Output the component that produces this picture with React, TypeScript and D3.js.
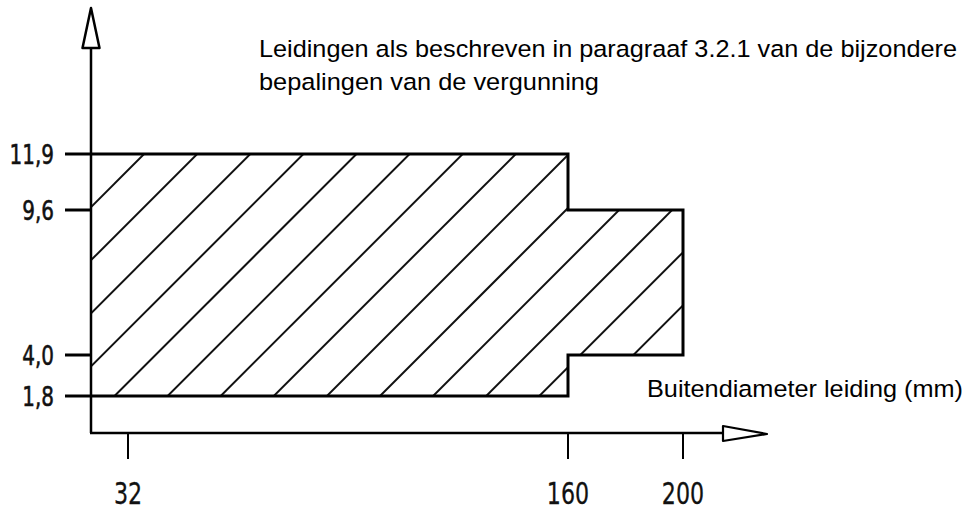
import { useEffect, useRef } from 'react';
import * as d3 from 'd3';

// tick values as printed on the axes (the drawing is not to scale)
const xTicks = [32, 160, 200];
const yTicks = [1.8, 4.0, 9.6, 11.9];

// hatched zones: outer diameter range (mm) and value range
const zones = [
  { x0: 0, x1: 160, y0: 1.8, y1: 11.9 },
  { x0: 160, x1: 200, y0: 4.0, y1: 9.6 },
];

const title = [
  'Leidingen als beschreven in paragraaf 3.2.1 van de bijzondere',
  'bepalingen van de vergunning',
];
const xLabel = 'Buitendiameter leiding (mm)';

const fmt = (v: number) => v.toFixed(1).replace('.', ',');

export default function App() {
  const svgRef = useRef<SVGSVGElement>(null);

  useEffect(() => {
    const width = 972;
    const height = 510;
    const originX = 91;
    const originY = 433;

    const svg = d3.select(svgRef.current);
    svg.selectAll('*').remove();
    svg.attr('width', width).attr('height', height).attr('viewBox', `0 0 ${width} ${height}`);

    // schematic axes: piecewise scales through the printed ticks
    const x = d3.scaleLinear().domain([0, 32, 160, 200]).range([originX, 128, 568, 683]);
    const y = d3.scaleLinear().domain([1.8, 4.0, 9.6, 11.9]).range([396, 355, 210, 154]);

    const [a, b] = zones;
    const outline: [number, number][] = [
      [a.x0, a.y0],
      [a.x0, a.y1],
      [a.x1, a.y1],
      [b.x0, b.y1],
      [b.x1, b.y1],
      [b.x1, b.y0],
      [b.x0, b.y0],
      [a.x1, a.y0],
    ];
    const pts = outline.map(([px, py]) => [x(px), y(py)] as [number, number]);
    const pathD = d3.line()(pts)! + 'Z';

    svg
      .append('clipPath')
      .attr('id', 'zone-clip')
      .append('path')
      .attr('d', pathD);

    // hatching at 45 degrees
    const gap = 53.1;
    const cMin = d3.min(pts, (p) => p[0] + p[1])!;
    const cMax = d3.max(pts, (p) => p[0] + p[1])!;
    const hatch = d3.range(cMin + gap, cMax, gap);
    const hx0 = x(a.x0) - 10;
    const hx1 = x(b.x1) + 10;
    svg
      .append('g')
      .attr('clip-path', 'url(#zone-clip)')
      .selectAll('line')
      .data(hatch)
      .enter()
      .append('line')
      .attr('x1', hx0)
      .attr('y1', (c) => c - hx0)
      .attr('x2', hx1)
      .attr('y2', (c) => c - hx1)
      .attr('stroke', '#111')
      .attr('stroke-width', 2);

    // zone outline, left edge lies on the axis
    const edge = d3.line()(pts.slice(1).concat([pts[0]]));
    svg
      .append('path')
      .attr('d', edge)
      .attr('fill', 'none')
      .attr('stroke', '#000')
      .attr('stroke-width', 3)
      .attr('stroke-linejoin', 'miter');

    // axes
    const axisG = svg.append('g').attr('stroke', '#000').attr('fill', 'none');
    axisG
      .append('line')
      .attr('x1', originX)
      .attr('y1', originY)
      .attr('x2', originX)
      .attr('y2', 48)
      .attr('stroke-width', 2.5);
    axisG
      .append('line')
      .attr('x1', originX - 1)
      .attr('y1', originY)
      .attr('x2', 723)
      .attr('y2', originY)
      .attr('stroke-width', 2.5);
    // open arrow heads
    axisG
      .append('path')
      .attr('d', `M${originX},8 L${originX + 8.5},48 L${originX - 8.5},48 Z`)
      .attr('fill', '#fff')
      .attr('stroke-width', 2.5)
      .attr('stroke-linejoin', 'round');
    axisG
      .append('path')
      .attr('d', `M767,${originY + 1} L723,${originY - 7} L723,${originY + 8} Z`)
      .attr('fill', '#fff')
      .attr('stroke-width', 2.2)
      .attr('stroke-linejoin', 'round');

    // y ticks and labels
    const yt = svg.append('g').selectAll('g').data(yTicks).enter().append('g');
    yt.append('line')
      .attr('x1', 65)
      .attr('x2', originX)
      .attr('y1', (d) => y(d))
      .attr('y2', (d) => y(d))
      .attr('stroke', '#000')
      .attr('stroke-width', 3);
    yt.append('text')
      .attr('transform', (d) => `translate(54,${y(d) + 10}) scale(0.74,1)`)
      .attr('text-anchor', 'end')
      .attr('font-family', 'DejaVu Sans')
      .attr('font-size', 27)
      .attr('fill', '#111')
      .attr('stroke', '#111')
      .attr('stroke-width', 0.6)
      .text((d) => fmt(d));

    // x ticks and labels
    const xt = svg.append('g').selectAll('g').data(xTicks).enter().append('g');
    xt.append('line')
      .attr('x1', (d) => x(d))
      .attr('x2', (d) => x(d))
      .attr('y1', originY)
      .attr('y2', 459)
      .attr('stroke', '#000')
      .attr('stroke-width', 2);
    xt.append('text')
      .attr('transform', (d) => `translate(${x(d)},504) scale(0.74,1)`)
      .attr('text-anchor', 'middle')
      .attr('font-family', 'DejaVu Sans')
      .attr('font-size', 30)
      .attr('fill', '#111')
      .attr('stroke', '#111')
      .attr('stroke-width', 0.3)
      .text((d) => String(d));

    // captions
    const titleWidths = [698, 340];
    svg
      .append('g')
      .selectAll('text')
      .data(title)
      .enter()
      .append('text')
      .attr('x', 259)
      .attr('y', (d, i) => 57 + i * 33)
      .attr('font-family', 'Liberation Sans, Arial, sans-serif')
      .attr('font-size', 24.5)
      .attr('textLength', (d, i) => titleWidths[i])
      .attr('lengthAdjust', 'spacingAndGlyphs')
      .attr('fill', '#000')
      .text((d) => d);

    svg
      .append('text')
      .attr('x', 647)
      .attr('y', 397)
      .attr('font-family', 'Liberation Sans, Arial, sans-serif')
      .attr('font-size', 24.5)
      .attr('textLength', 316)
      .attr('lengthAdjust', 'spacingAndGlyphs')
      .attr('fill', '#000')
      .text(xLabel);
  }, []);

  return (
    <div style={{ position: 'absolute', left: 0, top: 0, background: '#fff' }}>
      <svg ref={svgRef} style={{ display: 'block' }}></svg>
    </div>
  );
}
